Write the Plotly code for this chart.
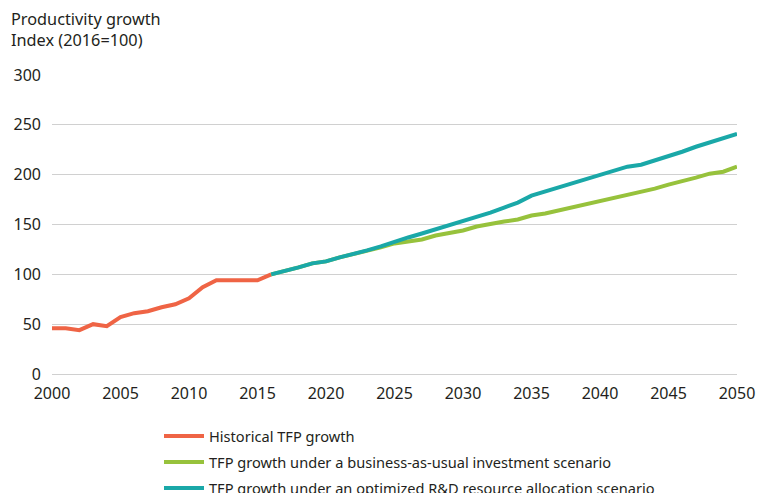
import plotly.graph_objects as go

hist_years = list(range(2000, 2017))
hist_values = [46, 46, 44, 50, 48, 57, 61, 63, 67, 70, 76, 87, 94, 94, 94, 94, 100]

scen_years = list(range(2016, 2051))
bau_values = [100, 103, 107, 111, 113, 117, 120, 123, 127, 131, 133, 135, 139, 141, 144,
              148, 151, 153, 155, 159, 161, 164, 168, 170, 174, 177, 179, 183, 186, 190,
              193, 197, 201, 203, 208]
opt_values = [100, 103, 107, 111, 113, 117, 120, 124, 128, 133, 137, 141, 145, 149, 154,
              158, 162, 167, 172, 179, 183, 188, 191, 195, 200, 204, 208, 210, 214, 219,
              223, 228, 232, 236, 241]

names = ["Historical TFP growth",
         "TFP growth under a business-as-usual investment scenario",
         "TFP growth under an optimized R&D resource allocation scenario"]
colors = ["#ef6445", "#97c23c", "#1aa8a8"]

x_ticks = list(range(2000, 2051, 5))
y_ticks = [0, 50, 100, 150, 200, 250, 300]

FONT = "Noto Sans, Open Sans, sans-serif"
TXT = "#231f20"

OFF = 8  # page body margin
W, H = 770 - OFF, 493 - OFF
L = 52 - OFF
T = 75 - OFF
R = W - (737 - OFF)
B = H - (374 - OFF)
PW, PH = W - L - R, H - T - B

fig = go.Figure()
for i, (xs, ys) in enumerate([(hist_years, hist_values), (scen_years, bau_values), (scen_years, opt_values)]):
    fig.add_trace(go.Scatter(x=xs, y=ys, mode="lines", name=names[i],
                             legendgroup=f"g{i}",
                             line=dict(color=colors[i], width=4)))

fig.add_annotation(text="Productivity growth<br>Index (2016=100)", xref="paper", yref="paper",
                   x=(1 - L) / PW, y=(H - B + 2) / PH, xanchor="left", yanchor="top",
                   align="left", showarrow=False,
                   font=dict(family=FONT, size=16.3, color=TXT))

fig.update_layout(
    width=W, height=H,
    margin=dict(l=L, r=R, t=T, b=B, autoexpand=False),
    paper_bgcolor="white", plot_bgcolor="white",
    font=dict(family=FONT, size=16, color=TXT),
    showlegend=True,
    legend=dict(orientation="v", xref="container", yref="container",
                x=151 / W, xanchor="left", y=(H - 412) / H, yanchor="top",
                font=dict(family=FONT, size=14.6, color=TXT), tracegroupgap=4,
                itemwidth=40, bgcolor="rgba(0,0,0,0)"),
    xaxis=dict(range=[2000, 2050], tickvals=x_ticks, showgrid=False, zeroline=False,
               showline=False, ticks="", tickfont=dict(size=16), ticklabelstandoff=8,
               fixedrange=True),
    yaxis=dict(range=[0, 300], tickvals=y_ticks, showgrid=True, gridcolor="#d0d0d0",
               gridwidth=1, zeroline=True, zerolinecolor="#d0d0d0", zerolinewidth=1,
               showline=False, ticks="", tickfont=dict(size=16), ticklabelstandoff=10),
)

fig.write_html("out.html")
